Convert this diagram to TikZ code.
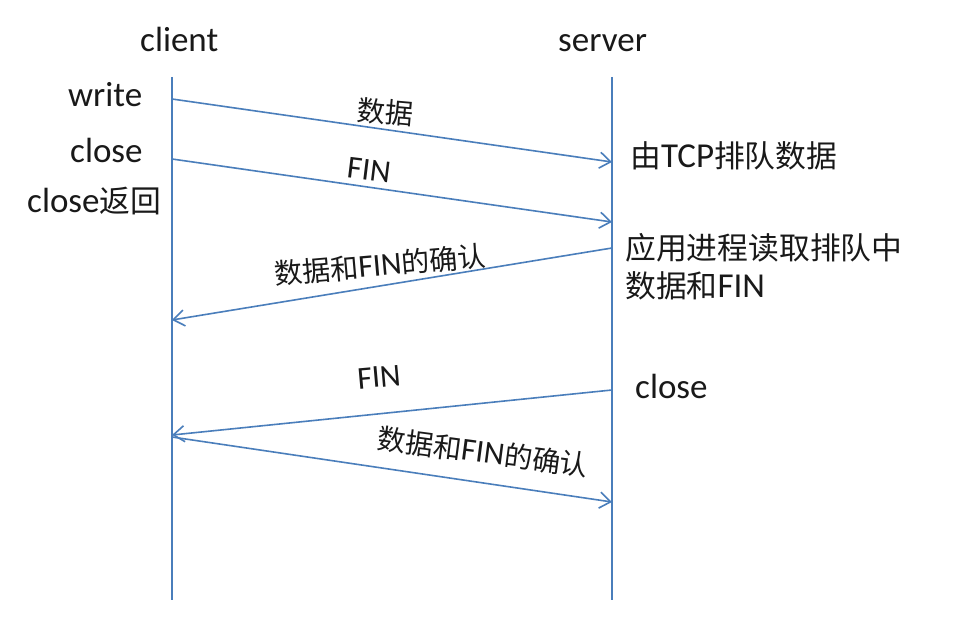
\documentclass[tikz,border=0pt]{standalone}
\usepackage{fontspec}
\setmainfont{Carlito}
\newfontfamily\cjk[Scale=0.88]{Noto Sans CJK SC}
\usetikzlibrary{arrows.meta}
\newcommand{\zh}[1]{{\cjk #1}}
\definecolor{lineblue}{RGB}{74,126,187}
\definecolor{txt}{RGB}{25,25,25}
\begin{document}
\begin{tikzpicture}[x=1pt,y=-1pt,
  lifeline/.style={draw=lineblue,line width=1.8pt},
  msg/.style={draw=lineblue,line width=1.6pt,-{Straight Barb[length=11pt,width=16pt,line width=1.6pt]}},
  lbl/.style={text=txt,inner sep=0pt,font=\fontsize{35}{40}\selectfont},
  albl/.style={text=txt,inner sep=0pt,font=\fontsize{32}{37}\selectfont}]
\useasboundingbox[fill=white] (0,0) rectangle (956,628);
% lifelines
\coordinate (ctop) at (172,77);
\coordinate (cbot) at (172,600);
\coordinate (stop) at (612,77);
\coordinate (sbot) at (612,600);
\draw[lifeline] (ctop) -- (cbot);
\draw[lifeline] (stop) -- (sbot);
% message endpoints
\coordinate (c1) at (172,99);   \coordinate (s1) at (612,162);
\coordinate (c2) at (172,159);  \coordinate (s2) at (612,222);
\coordinate (s3) at (612,248);  \coordinate (c3) at (172,320);
\coordinate (s4) at (612,390);  \coordinate (c4) at (172,435);
\coordinate (c5) at (172,437);  \coordinate (s5) at (612,502);
\draw[msg] (c1) -- (s1);
\draw[msg] (c2) -- (s2);
\draw[msg] (s3) -- (c3);
\draw[msg] (s4) -- (c4);
\draw[msg] (c5) -- (s5);
% header labels
\node[lbl,anchor=base west] (client) at (140,52) {client};
\node[lbl,anchor=base west] (server) at (558,52) {server};
% client side labels
\node[lbl,anchor=base west] (write) at (68,107) {write};
\node[lbl,anchor=base west] (cclose) at (70,163) {close};
\node[lbl,anchor=base west] (cret) at (27,213) {close\zh{返回}};
% server side labels
\node[lbl,anchor=base west] (queue) at (630,168) {\zh{由}TCP\zh{排队数据}};
\node[lbl,anchor=base west] (app1) at (625,260) {\zh{应用进程读取排队中}};
\node[lbl,anchor=base west] (app2) at (625,298) {\zh{数据和}FIN};
\node[lbl,anchor=base west] (sclose) at (635,399) {close};
% arrow labels
\node[albl,rotate=-5] (l1) at (385,112) {\zh{数据}};
\node[albl,rotate=-7] (l2) at (369,170) {FIN};
\node[albl,rotate=5] (l3) at (380,265) {\zh{数据和}FIN\zh{的确认}};
\node[albl,rotate=5] (l4) at (379,377) {FIN};
\node[albl,rotate=-7.5] (l5) at (483,452) {\zh{数据和}FIN\zh{的确认}};
\end{tikzpicture}
\end{document}
